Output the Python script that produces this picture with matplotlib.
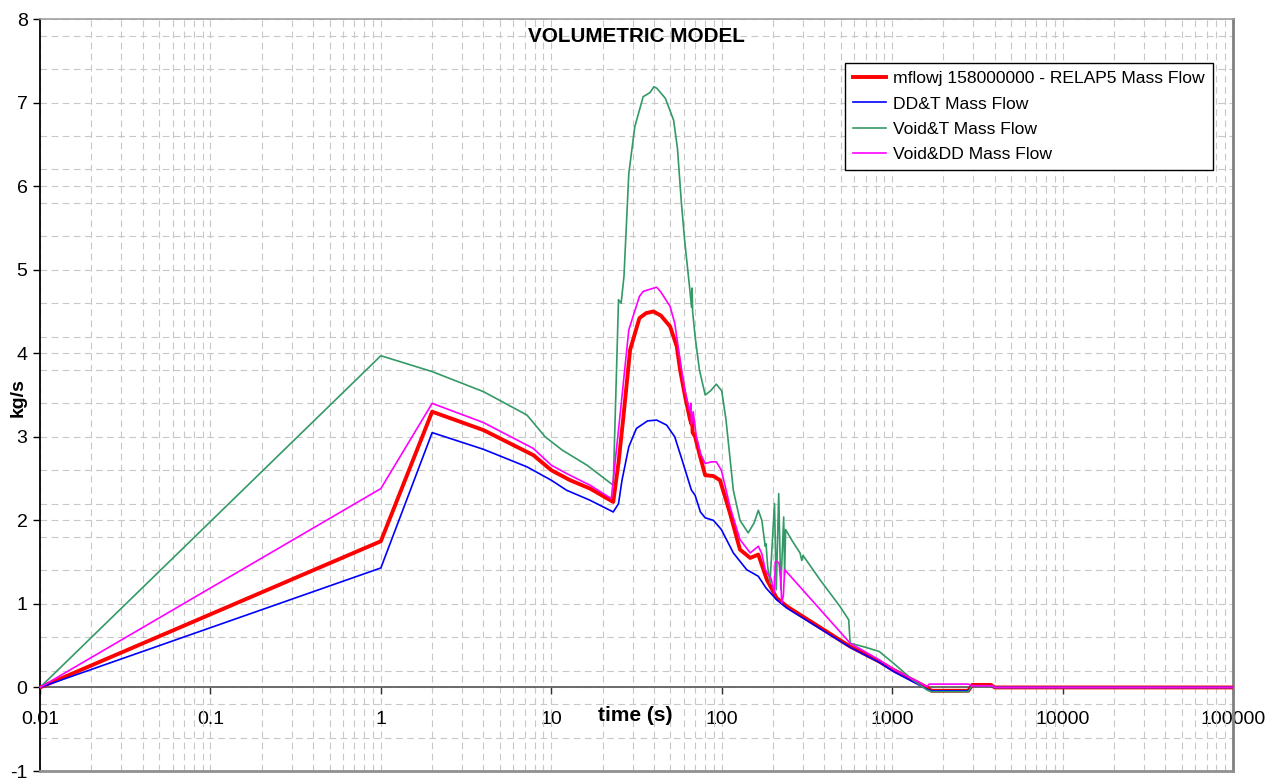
import matplotlib
matplotlib.use("Agg")
import matplotlib.pyplot as plt
from matplotlib.ticker import FixedLocator, LogLocator, NullFormatter

plt.rcParams['font.family'] = ['Liberation Sans', 'DejaVu Sans']
plt.rcParams['axes.unicode_minus'] = False

# RELAP5 mass flow (thick red)
t_red = [0.01, 1, 2, 4, 7.85, 10, 12.9, 16.9, 23.1, 24.8, 26.5, 29, 32.9, 36, 39.7,
         44, 49.8, 54.5, 57, 61, 65.3, 66.5, 67, 67.5, 69.8, 75, 80, 89.4, 97.7,
         112, 128, 147, 164, 184, 210, 241, 567, 840, 1018, 1600, 1700, 2800,
         2950, 3800, 4000, 100000]
y_red = [0, 1.75, 3.30, 3.08, 2.78, 2.60, 2.48, 2.38, 2.22, 2.69, 3.24, 4.04, 4.42, 4.48, 4.50,
         4.45, 4.32, 4.08, 3.80, 3.48, 3.20, 3.15, 3.25, 3.05, 3.00, 2.75, 2.54, 2.53, 2.48,
         2.08, 1.65, 1.55, 1.59, 1.29, 1.07, 0.97, 0.49, 0.31, 0.21, 0.0, -0.04, -0.04,
         0.03, 0.03, 0.0, 0.0]

# DD&T (blue)
t_blue = [0.01, 1, 2, 4, 7.2, 10, 12.3, 16.9, 23.1, 24.8, 26, 28.5, 31.6, 36.7, 41.5,
          47.5, 53, 59, 65.5, 66.5, 69.8, 75, 80, 89.4, 99.5, 117, 140, 164, 182, 210,
          241, 380, 567, 840, 1018, 1600, 1700, 2800, 2950, 3800, 4000, 100000]
y_blue = [0, 1.43, 3.05, 2.85, 2.64, 2.48, 2.36, 2.24, 2.10, 2.20, 2.48, 2.88, 3.10, 3.19, 3.20,
          3.14, 3.00, 2.70, 2.40, 2.36, 2.30, 2.10, 2.03, 2.00, 1.89, 1.61, 1.41, 1.33, 1.19, 1.05,
          0.95, 0.70, 0.48, 0.30, 0.19, -0.02, -0.04, -0.04, 0.02, 0.02, 0.0, 0.0]

# Void&T (green)
t_green = [0.01, 1, 2, 4, 7.2, 9.2, 11.6, 16.2, 23.1, 24.8, 25.7, 26.7, 28.5, 30.9, 34.6,
           38, 40, 41.7, 43.7, 46.7, 52.2, 55, 58, 60.6, 65, 66.5, 67, 67.5, 69.8, 74, 80,
           86, 93, 100, 106, 117, 128, 143, 155, 164, 172, 180, 182, 186, 192, 204, 209,
           216, 222, 231, 234, 237, 260, 288, 295, 300, 377, 494, 556, 567, 700, 840, 1018,
           1320, 1600, 1700, 2800, 2950, 3800, 4000, 100000]
y_green = [0, 3.97, 3.78, 3.54, 3.26, 3.00, 2.84, 2.66, 2.42, 4.64, 4.60, 4.92, 6.15, 6.71, 7.07,
           7.12, 7.19, 7.17, 7.12, 7.05, 6.79, 6.45, 5.80, 5.35, 4.76, 4.55, 4.78, 4.50, 4.20, 3.80, 3.50,
           3.55, 3.63, 3.55, 3.20, 2.36, 2.00, 1.85, 1.97, 2.12, 2.00, 1.69, 1.72, 1.45, 1.25, 2.20, 1.17,
           2.32, 1.17, 2.04, 1.35, 1.89, 1.75, 1.61, 1.52, 1.58, 1.29, 0.97, 0.81, 0.53, 0.48, 0.43, 0.29,
           0.09, -0.03, -0.05, -0.05, 0.02, 0.02, 0.0, 0.0]

# Void&DD (magenta)
t_mag = [0.01, 1, 2, 4, 7.85, 10, 12.3, 16.9, 22.5, 25.5, 28.5, 32.9, 34.6, 41.5, 43.7,
         49.8, 53, 56.6, 60.6, 65, 66, 66.5, 68, 71, 75, 80, 87, 93, 99.5, 112, 128, 147,
         164, 172, 180, 195, 204, 206, 209, 217, 222, 225, 230, 234, 567, 840, 1018, 1600,
         1650, 2800, 2950, 3900, 4000, 100000]
y_mag = [0, 2.38, 3.40, 3.17, 2.86, 2.66, 2.56, 2.42, 2.26, 3.32, 4.28, 4.68, 4.74, 4.79, 4.74,
         4.56, 4.36, 3.96, 3.56, 3.30, 3.40, 3.15, 3.30, 3.00, 2.80, 2.68, 2.70, 2.70, 2.60, 2.16, 1.77, 1.61,
         1.69, 1.60, 1.41, 1.30, 1.13, 1.50, 1.51, 1.49, 1.30, 1.01, 1.10, 1.41, 0.53, 0.33, 0.22, 0.01,
         0.04, 0.04, 0.02, 0.02, 0.0, 0.0]

x_ticks = [0.01, 0.1, 1, 10, 100, 1000, 10000, 100000]
x_ticklabels = ['0.01', '0.1', '1', '10', '100', '1000', '10000', '100000']
y_ticks = [-1, 0, 1, 2, 3, 4, 5, 6, 7, 8]
y_minor = [-1 + 0.4 * k for k in range(23)]

fig = plt.figure(figsize=(12.81, 7.78), dpi=100)
ax = fig.add_axes([40 / 1281, 1 - 771 / 778, 1193 / 1281, 752 / 778])

ax.plot(t_red, y_red, color='#FF0000', lw=2.8, label='mflowj 158000000 - RELAP5 Mass Flow', zorder=3)
ax.plot(t_blue, y_blue, color='#0000FF', lw=1.2, label='DD&T Mass Flow', zorder=3)
ax.plot(t_green, y_green, color='#339966', lw=1.2, label='Void&T Mass Flow', zorder=3)
ax.plot(t_mag, y_mag, color='#FF00FF', lw=1.2, label='Void&DD Mass Flow', zorder=3)

ax.set_xscale('log')
ax.set_xlim(0.01, 100000)
ax.set_ylim(-1, 8)

ax.set_xticks(x_ticks, labels=x_ticklabels)
ax.xaxis.set_minor_locator(LogLocator(base=10, subs=range(2, 10), numticks=20))
ax.xaxis.set_minor_formatter(NullFormatter())
ax.set_yticks(y_ticks)
ax.yaxis.set_minor_locator(FixedLocator(y_minor))

grid_kw = dict(color='#C8C8C8', lw=0.8, ls=(0, (6, 4)))
ax.grid(True, which='both', axis='both', **grid_kw)
ax.set_axisbelow(True)

# x axis crosses at y = 0
ax.spines['bottom'].set_position(('data', 0))
ax.spines['bottom'].set_color('#606060')
ax.spines['bottom'].set_linewidth(1.3)
ax.spines['left'].set_color('black')
ax.spines['left'].set_linewidth(1.3)
ax.spines['top'].set_color('#A0A0A0')
ax.spines['top'].set_linewidth(1.2)
ax.spines['right'].set_color('#808080')
ax.spines['right'].set_linewidth(2)
ax.axhline(-1, color='#909090', lw=2, clip_on=False, zorder=4)

ax.tick_params(axis='x', which='major', direction='out', length=5, width=1, color='#303030',
               labelsize=14, pad=12)
ax.tick_params(axis='x', which='minor', length=0)
ax.tick_params(axis='y', which='major', direction='out', length=5, width=1, labelsize=14, pad=4)
ax.tick_params(axis='y', which='minor', length=0)

ax.text(0.5, 0.977, 'VOLUMETRIC MODEL', transform=ax.transAxes, ha='center', va='center',
        fontsize=14.9, fontweight='bold')
ax.text(31, -0.34, 'time (s)', ha='center', va='center', fontsize=15, fontweight='bold')
fig.text(18 / 1281, 1 - 398 / 778, 'kg/s', rotation=90, ha='center', va='center',
         fontsize=14, fontweight='bold')

leg = ax.legend(loc='upper right', bbox_to_anchor=(0.983, 0.9415), fontsize=12.6,
                frameon=True, fancybox=False, edgecolor='black', framealpha=1,
                borderaxespad=0, handlelength=1.9, labelspacing=0.58, borderpad=0.45,
                handletextpad=0.4)
leg.get_frame().set_linewidth(1.0)

fig.savefig('out.png', dpi=100)
